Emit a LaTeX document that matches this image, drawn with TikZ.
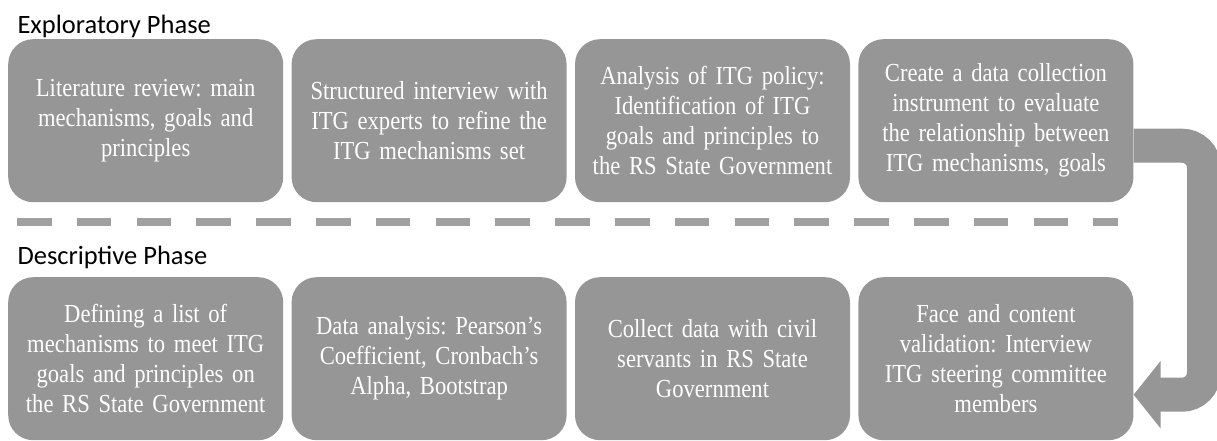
\documentclass[tikz,border=0pt]{standalone}
\usepackage{fontspec}
\setmainfont{Liberation Serif}[FakeStretch=0.87]
\newfontfamily\headfont{Carlito}
\usetikzlibrary{positioning, arrows.meta}
\definecolor{boxgray}{RGB}{150,150,150}
\definecolor{linegray}{RGB}{160,160,160}
\frenchspacing

\begin{document}
\begin{tikzpicture}[x=1pt,y=-1pt,>=latex,
    phasebox/.style={rounded corners=25pt, fill=boxgray, text=white,
        minimum width=275pt, minimum height=163pt, inner sep=0pt,
        text width=270pt, align=center,
        font=\fontsize{26}{30}\selectfont},
    phasetitle/.style={anchor=base west, font=\headfont\fontsize{26.5}{30}\selectfont},
    flowarrow/.style={boxgray, line width=34pt, rounded corners=22pt,
        -{Triangle[length=27pt,width=66pt]}}]
            %page size
            \useasboundingbox (0,0) rectangle (1217,441);

            %Exploratory phase
            \node[phasetitle] (exhead) at (14,34) {Exploratory Phase};
            \node[phasebox, anchor=north west] (ex1) at (8,39)
                {Literature review: main\\ mechanisms, goals and\\ principles};
            \node[phasebox, right=8pt of ex1] (ex2)
                {Structured interview with\\ ITG experts to refine the\\ ITG mechanisms set};
            \node[phasebox, right=8pt of ex2] (ex3)
                {Analysis of ITG policy:\\ Identification of ITG\\ goals and principles to\\ the RS State Government};
            \node[phasebox, right=8pt of ex3] (ex4)
                {Create a data collection\\ instrument to evaluate\\ the relationship between\\ ITG mechanisms, goals};

            % dashed separator
            \coordinate (sepL) at (17,222);
            \coordinate (sepR) at (1118,222);
            \draw[linegray, line width=8pt, dash pattern=on 34.5pt off 25.3pt] (sepL) -- (sepR);

            %Descriptive phase
            \node[phasetitle] (dehead) at (14,264) {Descriptive Phase};
            \node[phasebox, anchor=north west] (de1) at (8,277)
                {Defining a list of\\ mechanisms to meet ITG\\ goals and principles on\\ the RS State Government};
            \node[phasebox, right=8pt of de1] (de2)
                {Data analysis: Pearson's\\ Coefficient, Cronbach's\\ Alpha, Bootstrap};
            \node[phasebox, right=8pt of de2] (de3)
                {Collect data with civil\\ servants in RS State\\ Government};
            \node[phasebox, right=8pt of de3] (de4)
                {Face and content\\ validation: Interview\\ ITG steering committee\\ members};

            %turn arrow
            \coordinate (armstart) at ([yshift=-25pt]ex4.east);
            \coordinate (armend) at ([yshift=-36pt]de4.east);
            \coordinate (bend) at (1204,0);
            \draw[flowarrow] (armstart) -| (bend |- armend) -- (armend);
\end{tikzpicture}
\end{document}
